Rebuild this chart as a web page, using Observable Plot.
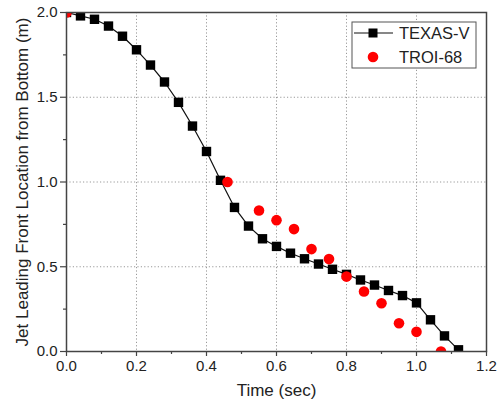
<!DOCTYPE html>
<html><head><meta charset="utf-8">
<script src="https://cdn.jsdelivr.net/npm/d3@7"></script>
<script src="https://cdn.jsdelivr.net/npm/@observablehq/plot@0.6"></script>
<style>body{margin:0;background:#fff;} svg{font-family:"Liberation Sans",Arial,sans-serif;display:block;}</style>
</head><body><div id="chart"></div>
<script>
const seriesNames = ["TEXAS-V", "TROI-68"];
const texasTime = [0, 0.04, 0.08, 0.12, 0.16, 0.20, 0.24, 0.28, 0.32, 0.36, 0.40, 0.44, 0.48, 0.52, 0.56, 0.60, 0.64, 0.68, 0.72, 0.76, 0.80, 0.84, 0.88, 0.92, 0.96, 1.00, 1.04, 1.08, 1.12];
const texasLoc = [2.0, 1.98, 1.96, 1.92, 1.86, 1.78, 1.69, 1.59, 1.47, 1.33, 1.18, 1.01, 0.85, 0.74, 0.665, 0.62, 0.58, 0.547, 0.516, 0.485, 0.455, 0.422, 0.392, 0.36, 0.33, 0.287, 0.187, 0.092, 0.01];
const troiTime = [0, 0.46, 0.55, 0.60, 0.65, 0.70, 0.75, 0.80, 0.85, 0.90, 0.95, 1.00, 1.07];
const troiLoc = [2.0, 1.0, 0.832, 0.775, 0.722, 0.604, 0.545, 0.442, 0.354, 0.285, 0.167, 0.116, 0.0];
const xTicks = [0, 0.2, 0.4, 0.6, 0.8, 1.0, 1.2];
const xMinorTicks = [0.1, 0.3, 0.5, 0.7, 0.9, 1.1];
const yTicks = [0, 0.5, 1.0, 1.5, 2.0];
const yMinorTicks = [0.25, 0.75, 1.25, 1.75];
const xTitle = "Time (sec)";
const yTitle = "Jet Leading Front Location from Bottom (m)";

const texas = texasTime.map((t, i) => ({t, y: texasLoc[i]}));
const troi = troiTime.map((t, i) => ({t, y: troiLoc[i]}));
const fmt = d3.format(".1f");
const axisColor = "#444";

const svg = Plot.plot({
  width: 497, height: 408,
  marginLeft: 66, marginRight: 11, marginTop: 12, marginBottom: 57,
  x: {domain: [0, 1.2], label: null},
  y: {domain: [0, 2], label: null},
  style: {fontFamily: "Liberation Sans, Arial, sans-serif", background: "#fff", color: "#222"},
  marks: [
    Plot.gridX(xTicks.slice(1, -1), {stroke: "#999", strokeOpacity: 1, strokeDasharray: "1.2,2.2"}),
    Plot.gridY(yTicks.slice(1, -1), {stroke: "#999", strokeOpacity: 1, strokeDasharray: "1.2,2.2"}),
    Plot.line(texas, {x: "t", y: "y", stroke: "#111", strokeWidth: 1.2, clip: true}),
    Plot.dot(texas, {x: "t", y: "y", symbol: "square", r: 5.3, fill: "#000", stroke: "none", clip: true}),
    Plot.dot(troi, {x: "t", y: "y", r: 5.3, fill: "#ff0000", stroke: "none", clip: true}),
    Plot.axisX(xTicks, {tickSize: 5, tickPadding: 4, tickFormat: fmt, fontSize: 15, stroke: axisColor, strokeWidth: 1.2}),
    Plot.axisX(xMinorTicks, {tickSize: 3, text: null, stroke: axisColor, strokeWidth: 1.2}),
    Plot.axisY(yTicks, {tickSize: 6, tickPadding: 3, tickFormat: fmt, fontSize: 15, stroke: axisColor, strokeWidth: 1.2}),
    Plot.axisY(yMinorTicks, {tickSize: 3, text: null, stroke: axisColor, strokeWidth: 1.2}),
    Plot.frame({stroke: axisColor, strokeWidth: 1.5}),
    Plot.text([xTitle], {frameAnchor: "bottom", dy: 44, fontSize: 17, fill: "#222"}),
    Plot.text([yTitle], {frameAnchor: "left", dx: -44, rotate: -90, textAnchor: "middle", fontSize: 17, fill: "#222"})
  ]
});

// Legend
const g = d3.select(svg).append("g").attr("text-anchor", "start");
g.append("rect").attr("x", 352).attr("y", 22).attr("width", 124).attr("height", 46)
  .attr("fill", "#fff").attr("stroke", "#555").attr("stroke-width", 1);
g.append("line").attr("x1", 354).attr("x2", 393).attr("y1", 33).attr("y2", 33)
  .attr("stroke", "#111").attr("stroke-width", 1.2);
g.append("rect").attr("x", 368.5).attr("y", 28.5).attr("width", 9).attr("height", 9).attr("fill", "#000");
g.append("circle").attr("cx", 373).attr("cy", 57).attr("r", 5.3).attr("fill", "#ff0000");
[[seriesNames[0], 33], [seriesNames[1], 57]].forEach(([s, y]) => {
  g.append("text").attr("x", 399).attr("y", y).attr("dy", "0.35em")
    .attr("text-anchor", "start").attr("font-size", 16.5).attr("fill", "#222").text(s);
});

document.getElementById("chart").appendChild(svg);
</script>
</body></html>
